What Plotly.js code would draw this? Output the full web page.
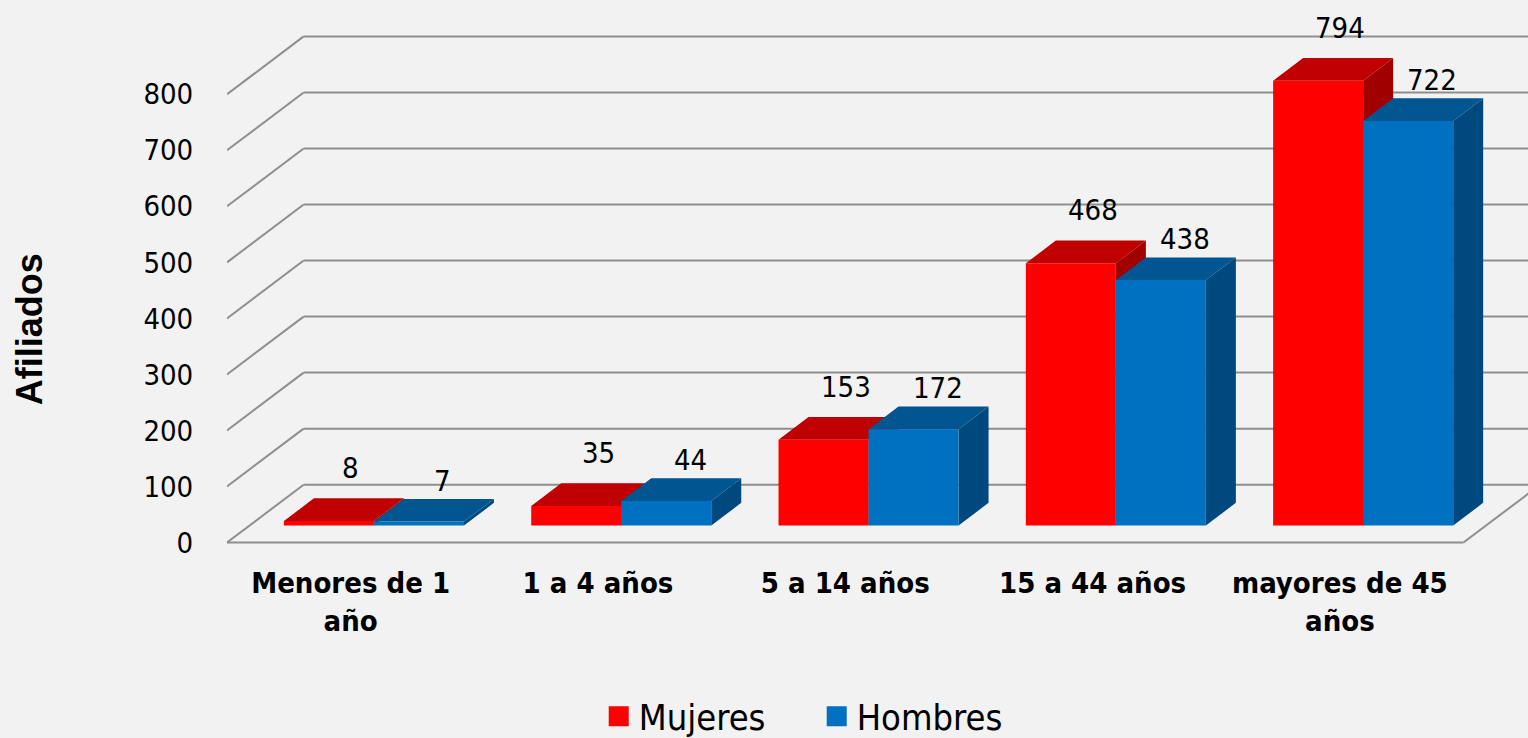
<!DOCTYPE html>
<html>
<head>
<meta charset="utf-8">
<script src="https://cdn.plot.ly/plotly-3.0.1.min.js"></script>
<style>
  html, body { margin: 0; padding: 0; background: #f2f2f2; }
  #chart { width: 1528px; height: 738px; }
</style>
</head>
<body>
<div id="chart"></div>
<script>
// ---- data ----
const categories = ['Menores de 1<br>año', '1 a 4 años', '5 a 14 años', '15 a 44 años', 'mayores de 45<br>años'];
const seriesNames = ['Mujeres', 'Hombres'];
const mujeres = [8, 35, 153, 468, 794];
const hombres = [7, 44, 172, 438, 722];
const yTickVals = [0, 100, 200, 300, 400, 500, 600, 700, 800];
const yTickText = ['0', '100', '200', '300', '400', '500', '600', '700', '800'];
const yTitle = 'Afiliados';

// ---- style / pseudo-3D geometry (in axis units) ----
const G = {
  xMin: -0.5, xMax: 4.7608, yMin: -31.2, yMax: 968.2,
  barW: 0.364, redOff: -0.2698, blueOff: 0.0942,
  base: 30.3, depthX: 0.1213, depthY: 40.5,
  wallX: 0.31, wallY: 103.2
};
const C = {
  bg: '#f2f2f2', grid: '#8e8e8e',
  redFront: '#ff0000', redTop: '#c00000', redSide: '#a00000',
  blueFront: '#0070c0', blueTop: '#015591', blueSide: '#00497e'
};
const numFont = 'DejaVu Sans Condensed, DejaVu Sans, sans-serif';

const idx = categories.map((_, i) => i);

// ---- shapes: walls / grid ----
const shapes = [];
const gl = { color: C.grid, width: 2 };
yTickVals.forEach(t => {
  shapes.push({ type: 'line', xref: 'x', yref: 'y', layer: 'below',
    x0: G.xMin + G.wallX, y0: t + G.wallY, x1: G.xMax + 1, y1: t + G.wallY, line: gl });
  shapes.push({ type: 'line', xref: 'x', yref: 'y', layer: 'below',
    x0: G.xMin, y0: t, x1: G.xMin + G.wallX, y1: t + G.wallY, line: gl });
});
const floorEnd = categories.length - 0.5;
shapes.push({ type: 'line', xref: 'x', yref: 'y', layer: 'below',
  x0: G.xMin, y0: 0, x1: floorEnd, y1: 0, line: gl });
shapes.push({ type: 'line', xref: 'x', yref: 'y', layer: 'below',
  x0: floorEnd, y0: 0, x1: floorEnd + G.wallX, y1: G.wallY, line: gl });

// ---- shapes: bar tops and sides (from data) ----
function topPath(x0, x1, h) {
  return `M${x0},${h} L${x1},${h} L${x1 + G.depthX},${h + G.depthY} L${x0 + G.depthX},${h + G.depthY} Z`;
}
function sidePath(x1, b, h) {
  return `M${x1},${b} L${x1},${h} L${x1 + G.depthX},${h + G.depthY} L${x1 + G.depthX},${b + G.depthY} Z`;
}
function addFaces(i, v, off, topCol, sideCol) {
  const x0 = i + off, x1 = x0 + G.barW, h = G.base + v;
  shapes.push({ type: 'path', xref: 'x', yref: 'y', layer: 'below',
    path: sidePath(x1, G.base, h), fillcolor: sideCol, line: { width: 0 } });
  shapes.push({ type: 'path', xref: 'x', yref: 'y', layer: 'below',
    path: topPath(x0, x1, h), fillcolor: topCol, line: { width: 0 } });
}
idx.forEach(i => {
  addFaces(i, mujeres[i], G.redOff, C.redTop, C.redSide);
  addFaces(i, hombres[i], G.blueOff, C.blueTop, C.blueSide);
});

// ---- data labels ----
const annotations = [];
idx.forEach(i => {
  annotations.push({ x: i + G.redOff + G.barW / 2, y: G.base + mujeres[i], xref: 'x', yref: 'y',
    text: String(mujeres[i]), showarrow: false, xshift: 22, yshift: 53, yanchor: 'middle',
    font: { family: numFont, size: 29, color: '#000' } });
  annotations.push({ x: i + G.blueOff + G.barW / 2, y: G.base + hombres[i], xref: 'x', yref: 'y',
    text: String(hombres[i]), showarrow: false, xshift: 24, yshift: 41, yanchor: 'middle',
    font: { family: numFont, size: 29, color: '#000' } });
});
// y-axis title (rotated, placed as in the reference)
annotations.push({ xref: 'paper', yref: 'paper', x: -0.152, y: 0.4125, xanchor: 'center', yanchor: 'middle',
  text: yTitle, textangle: -90, showarrow: false,
  font: { family: 'Liberation Sans, Arial, sans-serif', size: 36, color: '#000', weight: 'bold' } });

// ---- traces ----
const traces = [
  { type: 'bar', x: idx, y: mujeres, base: G.base, offset: G.redOff, width: G.barW,
    marker: { color: C.redFront, line: { width: 0 } }, name: seriesNames[0], showlegend: false, hoverinfo: 'y' },
  { type: 'bar', x: idx, y: hombres, base: G.base, offset: G.blueOff, width: G.barW,
    marker: { color: C.blueFront, line: { width: 0 } }, name: seriesNames[1], showlegend: false, hoverinfo: 'y' },
  { type: 'scatter', mode: 'markers', x: [null], y: [null], name: seriesNames[0],
    marker: { symbol: 'square', size: 16, color: C.redFront, line: { color: C.redFront, width: 4 } } },
  { type: 'scatter', mode: 'markers', x: [null], y: [null], name: seriesNames[1],
    marker: { symbol: 'square', size: 16, color: C.blueFront, line: { color: C.blueFront, width: 4 } } }
];

const layout = {
  width: 1528, height: 738,
  paper_bgcolor: C.bg, plot_bgcolor: 'rgba(0,0,0,0)',
  margin: { l: 227, r: 0, t: 0, b: 178 },
  barmode: 'overlay',
  showlegend: true,
  xaxis: {
    range: [G.xMin, G.xMax], showgrid: false, zeroline: false, showline: false, automargin: false,
    tickvals: idx, ticktext: categories, ticks: '', ticklabelstandoff: 3,
    tickfont: { family: numFont, size: 29, color: '#000', weight: 'bold' }, fixedrange: true
  },
  yaxis: {
    range: [G.yMin, G.yMax], showgrid: false, zeroline: false, showline: false, automargin: false,
    tickvals: yTickVals, ticktext: yTickText, ticks: 'outside', ticklen: 27, tickcolor: 'rgba(0,0,0,0)',
    tickfont: { family: numFont, size: 29, color: '#000' }, fixedrange: true
  },
  legend: {
    orientation: 'h', xref: 'container', yref: 'container',
    x: 0.5345, xanchor: 'center', y: 0.0295, yanchor: 'middle',
    font: { family: numFont, size: 36, color: '#000' }, bgcolor: 'rgba(0,0,0,0)',
    entrywidth: 173, entrywidthmode: 'pixels'
  },
  shapes: shapes,
  annotations: annotations
};

Plotly.newPlot('chart', traces, layout, { displayModeBar: false, staticPlot: true });
</script>
</body>
</html>
